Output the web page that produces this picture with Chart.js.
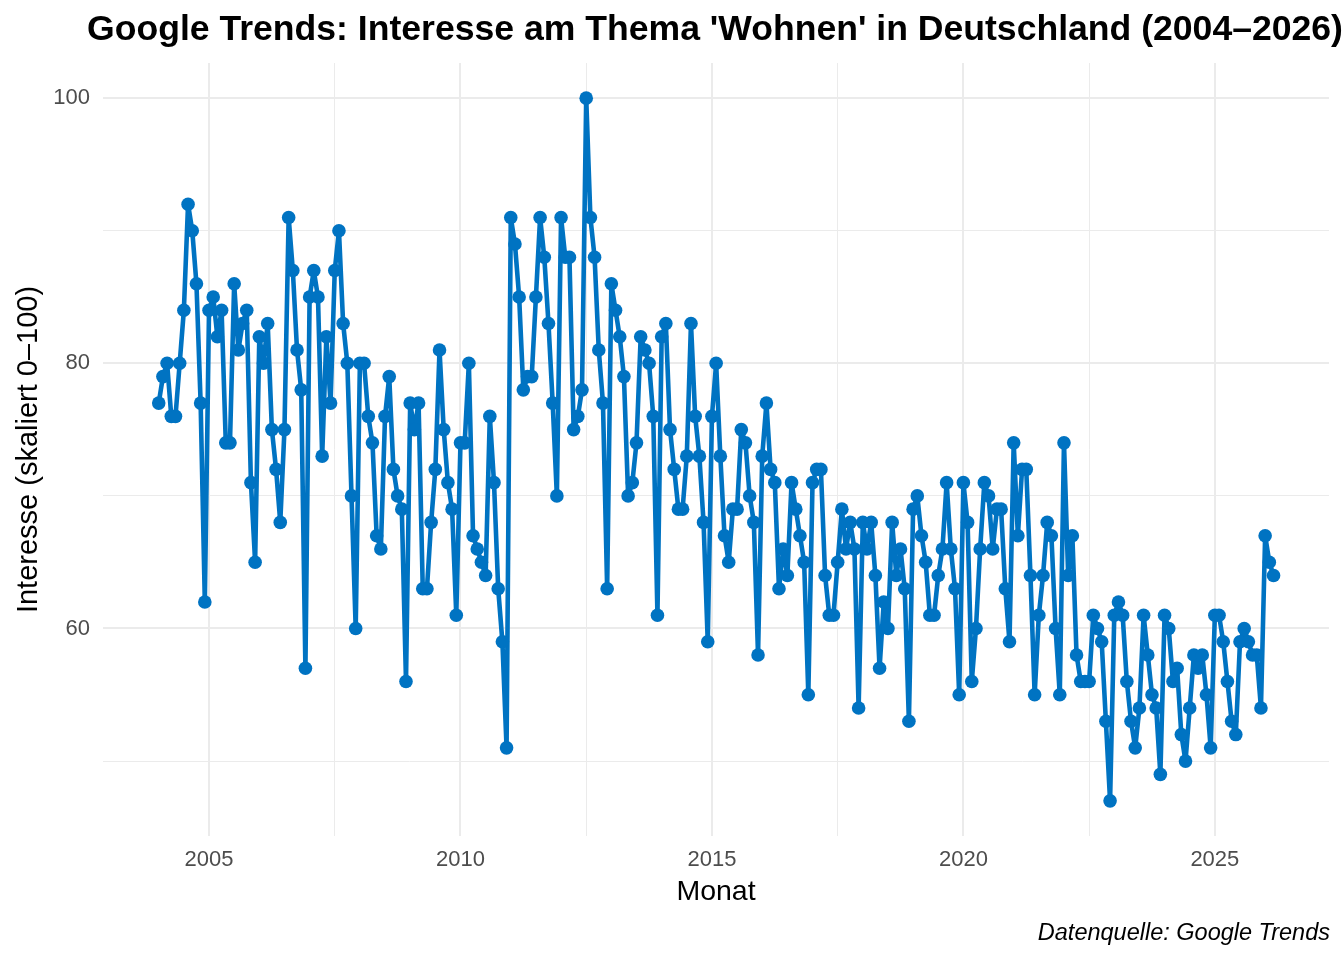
<!DOCTYPE html>
<html>
<head>
<meta charset="utf-8">
<script src="https://cdn.jsdelivr.net/npm/chart.js@4.4.1/dist/chart.umd.min.js"></script>
<style>
html,body{margin:0;padding:0;background:#ffffff;}
#wrap{width:1344px;height:960px;position:relative;}
</style>
</head>
<body>
<div id="wrap"><canvas id="c" width="1344" height="960"></canvas></div>
<script>
// ---- Data (monthly values, Jan 2004 – Mar 2026) ----
const firstYear = 2004;
const interest2004 = [77,79,80,76,76,80,84,92,90,86,77,62];
const interest2005 = [84,85,82,84,74,74,86,81,83,84,71,65];
const interest2006 = [82,80,83,75,72,68,75,91,87,81,78,57];
const interest2007 = [85,87,85,73,82,77,87,90,83,80,70,60];
const interest2008 = [80,80,76,74,67,66,76,79,72,70,69,56];
const interest2009 = [77,75,77,63,63,68,72,81,75,71,69,61];
const interest2010 = [74,74,80,67,66,65,64,76,71,63,59,51];
const interest2011 = [91,89,85,78,79,79,85,91,88,83,77,70];
const interest2012 = [91,88,88,75,76,78,100,91,88,81,77,63];
const interest2013 = [86,84,82,79,70,71,74,82,81,80,76,61];
const interest2014 = [82,83,75,72,69,69,73,83,76,73,68,59];
const interest2015 = [76,80,73,67,65,69,69,75,74,70,68,58];
const interest2016 = [73,77,72,71,63,66,64,71,69,67,65,55];
const interest2017 = [71,72,72,64,61,61,65,69,66,68,66,54];
const interest2018 = [68,66,68,64,57,62,60,68,64,66,63,53];
const interest2019 = [69,70,67,65,61,61,64,66,71,66,63,55];
const interest2020 = [71,68,56,60,66,71,70,66,69,69,63,59];
const interest2021 = [74,67,72,72,64,55,61,64,68,67,60,55];
const interest2022 = [74,64,67,58,56,56,56,61,60,59,53,47];
const interest2023 = [61,62,61,56,53,51,54,61,58,55,54,49];
const interest2024 = [61,60,56,57,52,50,54,58,57,58,55,51];
const interest2025 = [61,61,59,56,53,52,59,60,59,58,58,54];
const interest2026 = [67,65,64];

const seriesByYear = [
  interest2004, interest2005, interest2006, interest2007, interest2008,
  interest2009, interest2010, interest2011, interest2012, interest2013,
  interest2014, interest2015, interest2016, interest2017, interest2018,
  interest2019, interest2020, interest2021, interest2022, interest2023,
  interest2024, interest2025, interest2026
];

const xMajorTicks = [2005, 2010, 2015, 2020, 2025];
const xMinorTicks = [2007.5, 2012.5, 2017.5, 2022.5];
const yMajorTicks = [60, 80, 100];
const yMinorTicks = [50, 70, 90];

const titleText = "Google Trends: Interesse am Thema 'Wohnen' in Deutschland (2004–2026)";
const xTitleText = "Monat";
const yTitleText = "Interesse (skaliert 0–100)";
const captionText = "Datenquelle: Google Trends";

// ---- Build points (x = decimal year of month start) ----
const points = [];
seriesByYear.forEach((arr, i) => {
  arr.forEach((v, m) => points.push({ x: firstYear + i + m / 12, y: v }));
});

// ggplot-like 5% expansion of the axis ranges
const xs = points.map(p => p.x), ys = points.map(p => p.y);
const xLo = Math.min(...xs), xHi = Math.max(...xs) + (59 / 365 - 2 / 12);
const yLo = Math.min(...ys), yHi = Math.max(...ys);
const xPad = (xHi - xLo) * 0.05, yPad = (yHi - yLo) * 0.05;

const FONT = '"Liberation Sans", Arial, Helvetica, sans-serif';
const lineColor = '#0073C2';

const textPlugin = {
  id: 'ggTexts',
  beforeDraw(chart) {
    const { ctx } = chart;
    ctx.save();
    ctx.fillStyle = '#ffffff';
    ctx.fillRect(0, 0, chart.width, chart.height);
    ctx.restore();
  },
  afterDraw(chart) {
    const { ctx, chartArea: a } = chart;
    const cx = (a.left + a.right) / 2;
    ctx.save();
    ctx.fillStyle = '#000000';
    ctx.textBaseline = 'alphabetic';
    ctx.textAlign = 'center';
    ctx.font = 'bold 35.6px ' + FONT;
    ctx.fillText(titleText, cx - 1, 40);
    ctx.font = '28.5px ' + FONT;
    ctx.fillText(xTitleText, cx, 900);
    ctx.save();
    ctx.translate(37, (a.top + a.bottom) / 2);
    ctx.rotate(-Math.PI / 2);
    ctx.font = '29px ' + FONT;
    ctx.fillText(yTitleText, 0, 0);
    ctx.restore();
    ctx.textAlign = 'right';
    ctx.font = 'italic 23.5px ' + FONT;
    ctx.fillText(captionText, 1330, 940);
    ctx.restore();
  }
};

const isMajorX = v => xMajorTicks.some(t => Math.abs(t - v) < 1e-6);
const isMajorY = v => yMajorTicks.some(t => Math.abs(t - v) < 1e-6);

new Chart(document.getElementById('c'), {
  type: 'line',
  data: {
    datasets: [{
      data: points,
      borderColor: lineColor,
      backgroundColor: lineColor,
      borderWidth: 4.6,
      borderJoinStyle: 'round',
      borderCapStyle: 'round',
      pointRadius: 6.8,
      pointBorderWidth: 0,
      pointBackgroundColor: lineColor,
      tension: 0,
      fill: false
    }]
  },
  options: {
    responsive: false,
    devicePixelRatio: 1,
    animation: false,
    events: [],
    layout: { padding: { top: 63, right: 15, left: 0, bottom: 0 } },
    plugins: {
      legend: { display: false },
      tooltip: { enabled: false },
      title: { display: false }
    },
    scales: {
      x: {
        type: 'linear',
        min: xLo - xPad,
        max: xHi + xPad,
        afterBuildTicks: s => {
          s.ticks = [...xMajorTicks, ...xMinorTicks].sort((p, q) => p - q).map(v => ({ value: v }));
        },
        afterFit: s => { s.height = 124; },
        border: { display: false },
        grid: {
          drawTicks: false,
          color: '#EBEBEB',
          lineWidth: c => (c.tick && isMajorX(c.tick.value)) ? 2 : 1
        },
        ticks: {
          autoSkip: false,
          maxRotation: 0,
          padding: 11,
          color: '#4D4D4D',
          font: { family: FONT, size: 22 },
          callback: v => isMajorX(v) ? String(v) : ''
        }
      },
      y: {
        type: 'linear',
        min: yLo - yPad,
        max: yHi + yPad,
        afterBuildTicks: s => {
          s.ticks = [...yMinorTicks, ...yMajorTicks].sort((p, q) => p - q).map(v => ({ value: v }));
        },
        afterFit: s => { s.width = 103; },
        border: { display: false },
        grid: {
          drawTicks: false,
          color: '#EBEBEB',
          lineWidth: c => (c.tick && isMajorY(c.tick.value)) ? 2 : 1
        },
        ticks: {
          autoSkip: false,
          padding: 13,
          color: '#4D4D4D',
          font: { family: FONT, size: 22 },
          callback: v => isMajorY(v) ? String(v) : ''
        }
      }
    }
  },
  plugins: [textPlugin]
});
</script>
</body>
</html>
